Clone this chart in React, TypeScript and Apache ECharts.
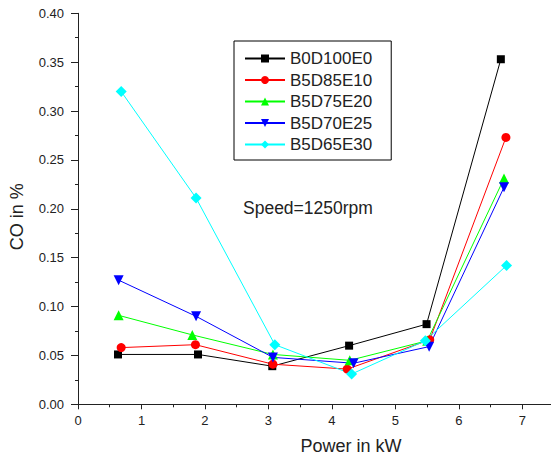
import React, { useEffect, useRef } from "react";
import * as echarts from "echarts";

const seriesNames = ["B0D100E0", "B5D85E10", "B5D75E20", "B5D70E25", "B5D65E30"];
const colors = ["#000000", "#ff0000", "#00ff00", "#0000ff", "#00ffff"];
const symbols = ["rect", "circle", "triangle", "path://M0,0 L10,0 L5,10 Z", "diamond"];
const symbolSizes = [8, 9, 10, 10, 11];

const b0d100e0: [number, number][] = [[0.63, 0.051], [1.89, 0.051], [3.06, 0.039], [4.27, 0.06], [5.49, 0.082], [6.66, 0.353]];
const b5d85e10: [number, number][] = [[0.68, 0.058], [1.85, 0.061], [3.07, 0.041], [4.24, 0.036], [5.54, 0.066], [6.74, 0.273]];
const b5d75e20: [number, number][] = [[0.64, 0.091], [1.8, 0.071], [3.07, 0.051], [4.28, 0.045], [5.5, 0.065], [6.71, 0.231]];
const b5d70e25: [number, number][] = [[0.64, 0.127], [1.86, 0.09], [3.07, 0.048], [4.34, 0.042], [5.53, 0.059], [6.71, 0.222]];
const b5d65e30: [number, number][] = [[0.68, 0.32], [1.86, 0.211], [3.1, 0.061], [4.31, 0.031], [5.47, 0.065], [6.75, 0.142]];
const allData = [b0d100e0, b5d85e10, b5d75e20, b5d70e25, b5d65e30];

const speedLabel = "Speed=1250rpm";

export default function App() {
  const ref = useRef<HTMLDivElement>(null);
  useEffect(() => {
    if (!ref.current) return;
    const chart = echarts.init(ref.current, undefined, { renderer: "svg" });
    const font = "Liberation Sans, Arial, sans-serif";
    const axisColor = "#222";
    chart.setOption({
      animation: false,
      backgroundColor: "#ffffff",
      textStyle: { fontFamily: font },
      grid: { left: 78, right: 0, top: 13.3, bottom: 51.7, containLabel: false, outerBoundsMode: "none" },
      xAxis: {
        type: "value",
        min: 0,
        max: 7.45,
        interval: 1,
        name: "Power in kW",
        nameLocation: "middle",
        nameGap: 33,
        nameTextStyle: { fontSize: 18, color: "#222", fontFamily: font, padding: [0, 0, 0, 73] },
        axisLine: { show: true, lineStyle: { color: axisColor, width: 1 } },
        axisTick: { show: true, length: 5, lineStyle: { color: axisColor } },
        minorTick: { show: true, splitNumber: 2, length: 3, lineStyle: { color: axisColor } },
        axisLabel: {
          fontSize: 13,
          color: "#222",
          margin: 10,
          formatter: (v: number) => (Number.isInteger(v) ? String(v) : ""),
        },
        splitLine: { show: false },
      },
      yAxis: {
        type: "value",
        min: 0,
        max: 0.4,
        interval: 0.05,
        name: "CO in %",
        nameLocation: "middle",
        nameGap: 52,
        nameTextStyle: { fontSize: 18, color: "#222", fontFamily: font, padding: [0, 16, 0, 0] },
        axisLine: { show: true, lineStyle: { color: axisColor, width: 1 } },
        axisTick: { show: true, length: 7, lineStyle: { color: axisColor } },
        minorTick: { show: true, splitNumber: 2, length: 3, lineStyle: { color: axisColor } },
        axisLabel: {
          fontSize: 13,
          color: "#222",
          margin: 14,
          formatter: (v: number) => v.toFixed(2),
        },
        splitLine: { show: false },
      },
      legend: {
        orient: "vertical",
        left: 234,
        top: 41,
        itemWidth: 40,
        itemHeight: 10,
        itemGap: 4.5,
        padding: [9, 19, 7, 10],
        borderColor: "#000",
        borderWidth: 1,
        backgroundColor: "#fff",
        textStyle: { fontSize: 17, color: "#222", fontFamily: font },
        data: seriesNames,
      },
      graphic: [
        {
          type: "text",
          left: 243,
          top: 199,
          style: { text: speedLabel, fontSize: 17.5, fill: "#222", fontFamily: font },
        },
      ],
      series: allData.map((d, i) => ({
        name: seriesNames[i],
        type: "line",
        data: d,
        symbol: symbols[i],
        symbolSize: symbolSizes[i],
        showAllSymbol: true,
        itemStyle: { color: colors[i] },
        lineStyle: { color: colors[i], width: 1 },
        emphasis: { disabled: true },
      })),
    });
    return () => chart.dispose();
  }, []);
  return (
    <div
      ref={ref}
      style={{ position: "fixed", left: 0, top: 0, width: 551, height: 456 }}
    />
  );
}
